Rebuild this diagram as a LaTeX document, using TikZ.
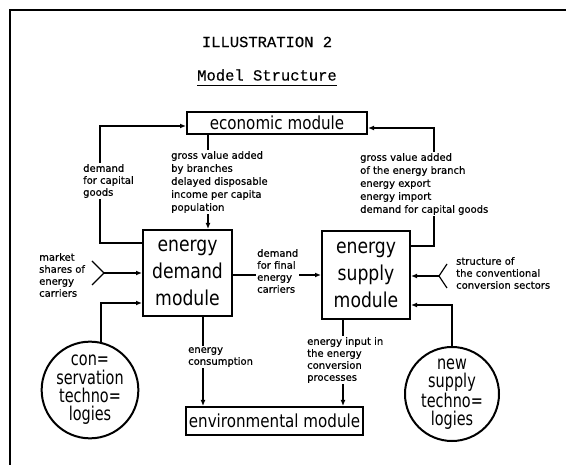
\documentclass[tikz,border=0pt]{standalone}
\usepackage{fontspec}
\setmainfont{DejaVu Sans}
\newfontfamily\labfont[FakeBold=0.5]{DejaVu Sans}
\newfontfamily\boxfont[FakeStretch=0.84]{DejaVu Sans}
\newfontfamily\circfont[FakeStretch=0.76]{DejaVu Sans}
\newfontfamily\ttlfont[FakeBold=0.4]{Liberation Mono}
\usetikzlibrary{arrows.meta}
\tikzset{
  modbox/.style={draw, line width=2pt, inner sep=0pt, align=center},
  bigtext/.style={font=\boxfont\fontsize{20.5}{27}\selectfont},
  techcirc/.style={draw, circle, line width=2pt, inner sep=0pt, align=center,
     font=\circfont\fontsize{19}{18.3}\selectfont},
  lab/.style={align=left, inner sep=1pt, fill=white, font=\labfont\fontsize{10}{12}\selectfont},
  conn/.style={line width=1.2pt},
  arr/.style={conn, -{Latex[length=6pt,width=5pt]}},
  ttl/.style={font=\ttlfont\fontsize{15.5}{15.5}\selectfont, inner sep=0pt}
}
\begin{document}
\begin{tikzpicture}[x=1pt,y=-1pt]
\useasboundingbox (0,0) rectangle (566,465);
% frame (top and left edges only)
\draw[line width=2pt] (10,465) -- (10,10) -- (566,10);

% titles
\node[ttl] (t1) at (267,42) {ILLUSTRATION 2};
\node[ttl] (t2) at (267,75) {Model Structure};
\draw[line width=1pt] ([yshift=-5pt]t2.south west) -- ([yshift=-5pt]t2.south east);

% modules
\node[modbox, minimum width=180pt, minimum height=22pt, font=\boxfont\fontsize{18}{18}\selectfont] (econ) at (277,123) {economic module};
\node[modbox, bigtext, minimum width=89pt, minimum height=86pt] (demand) at (187.5,273) {energy\\demand\\module};
\node[modbox, bigtext, minimum width=88pt, minimum height=88pt] (supply) at (366,275) {energy\\supply\\module};
\node[modbox, minimum width=177pt, minimum height=28pt, font=\boxfont\fontsize{18}{18}\selectfont] (env) at (274.5,421) {environmental module};
\node[techcirc, minimum size=90pt] (cons) at (90,390) {con=\\servation\\techno=\\logies};
\node[techcirc, minimum size=94pt] (newst) at (452,394) {new\\supply\\techno=\\logies};

% helper coordinates
\coordinate (cl1) at (100,243);
\coordinate (cl2) at (100,126);
\coordinate (cr1) at (434,246);
\coordinate (cr2) at (434,128);
\coordinate (gv) at (208,0);
\coordinate (ms) at (104,273);
\coordinate (ss) at (439,276);
\coordinate (cb) at (100,303);
\coordinate (nb) at (452,305);
\coordinate (ec) at (203,0);
\coordinate (ei) at (343,0);

% connectors
\draw[arr] (demand.west |- cl1) -- (cl1) -- (cl2) -- (econ.west |- cl2);
\draw[arr] (supply.east |- cr1) -- (cr1) -- (cr2) -- (econ.east |- cr2);
\draw[arr] (econ.south -| gv) -- (demand.north -| gv);
\draw[arr] (demand.east |- supply) -- (supply.west);
\draw[arr] (ms) -- (demand.west |- ms);
\draw[conn] ([shift={(-12,-12)}]ms) -- (ms) -- ([shift={(-12,12)}]ms);
\draw[arr] (ss) -- (supply.east |- ss);
\draw[conn] ([shift={(8,-12)}]ss) -- (ss) -- ([shift={(8,12)}]ss);
\draw[arr] (cons.77) |- (demand.west |- cb);
\draw[arr] (newst.north) |- (supply.east |- nb);
\draw[arr] (demand.south -| ec) -- (env.north -| ec);
\draw[arr] (supply.south -| ei) -- (env.north -| ei);

% labels
\node[lab, anchor=west] (l1) at (82,181) {demand\\for capital\\goods};
\node[lab, anchor=west, font=\labfont\fontsize{10}{13}\selectfont] (l2) at (170,182) {gross value added\\by branches\\delayed disposable\\income per capita\\population};
\node[lab, anchor=west, font=\labfont\fontsize{10}{13}\selectfont] (l3) at (359,184) {gross value added\\of the energy branch\\energy export\\energy import\\demand for capital goods};
\node[lab, anchor=west] (l4) at (256,271) {demand\\for final\\energy\\carriers};
\node[lab, anchor=west] (l5) at (38,275) {market\\shares of\\energy\\carriers};
\node[lab, anchor=west] (l6) at (455,273) {structure of\\the conventional\\conversion sectors};
\node[lab, anchor=west] (l7) at (187,357) {energy\\consumption};
\node[lab, anchor=west] (l8) at (306,360) {energy input in\\the energy\\conversion\\processes};
\end{tikzpicture}
\end{document}
